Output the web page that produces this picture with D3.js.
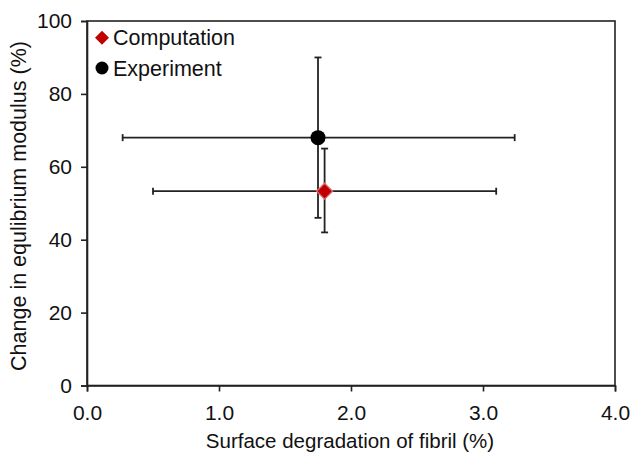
<!DOCTYPE html>
<html><head><meta charset="utf-8">
<script src="https://cdn.jsdelivr.net/npm/d3@7"></script>
<style>body{margin:0;background:#fff}svg{display:block}text{font-family:"Liberation Sans",Arial,sans-serif;fill:#111}</style>
</head><body><svg id="c" width="634" height="457"></svg>
<script>
const seriesNames = ["Computation", "Experiment"];
const xValues = [1.80, 1.75];
const yValues = [53.3, 68];
const xErrLow = [0.50, 0.27];
const xErrHigh = [3.10, 3.24];
const yErrLow = [42, 46];
const yErrHigh = [65, 90];
const xTicks = [0, 1, 2, 3, 4];
const yTicks = [0, 20, 40, 60, 80, 100];

const svg = d3.select("#c");
const L = 87, R = 615, T = 21, B = 385.5;
const x = d3.scaleLinear().domain([0, 4]).range([L, R]);
const y = d3.scaleLinear().domain([0, 100]).range([B, T]);

// frame
svg.append("rect").attr("x", L).attr("y", T).attr("width", R - L).attr("height", B - T)
  .attr("fill", "none").attr("stroke", "#222").attr("stroke-width", 1.6);

const xa = svg.append("g").attr("transform", `translate(0,${B})`)
  .call(d3.axisBottom(x).tickValues(xTicks).tickFormat(d3.format(".1f")).tickSizeOuter(0).tickSize(6).tickPadding(14));
const ya = svg.append("g").attr("transform", `translate(${L},0)`)
  .call(d3.axisLeft(y).tickValues(yTicks).tickSizeOuter(0).tickSize(6).tickPadding(9));
[xa, ya].forEach(a => {
  a.select(".domain").attr("stroke", "#222").attr("stroke-width", 1.6);
  a.selectAll(".tick line").attr("stroke", "#222").attr("stroke-width", 1.6);
  a.selectAll(".tick text").attr("font-size", 21).attr("font-family", "Liberation Sans, Arial, sans-serif").attr("fill", "#111");
});

svg.append("text").attr("x", 350).attr("y", 448).attr("text-anchor", "middle")
  .attr("font-size", 20.5).text("Surface degradation of fibril (%)");
svg.append("text").attr("transform", `translate(26,206) rotate(-90)`).attr("text-anchor", "middle")
  .attr("font-size", 21.5).text("Change in equlibrium modulus (%)");

// error bars
const cap = 3.5;
const eb = svg.append("g").attr("stroke", "#222").attr("stroke-width", 1.8);
[1, 0].forEach(i => {
  eb.append("line").attr("x1", x(xErrLow[i])).attr("x2", x(xErrHigh[i])).attr("y1", y(yValues[i])).attr("y2", y(yValues[i]));
  [xErrLow[i], xErrHigh[i]].forEach(v => eb.append("line").attr("x1", x(v)).attr("x2", x(v)).attr("y1", y(yValues[i]) - cap).attr("y2", y(yValues[i]) + cap));
  eb.append("line").attr("x1", x(xValues[i])).attr("x2", x(xValues[i])).attr("y1", y(yErrLow[i])).attr("y2", y(yErrHigh[i]));
  [yErrLow[i], yErrHigh[i]].forEach(v => eb.append("line").attr("y1", y(v)).attr("y2", y(v)).attr("x1", x(xValues[i]) - cap).attr("x2", x(xValues[i]) + cap));
});

const diamond = (cx, cy, r) => `M${cx},${cy - r}L${cx + r},${cy}L${cx},${cy + r}L${cx - r},${cy}Z`;
// experiment point
svg.append("circle").attr("cx", x(xValues[1])).attr("cy", y(yValues[1])).attr("r", 7.5).attr("fill", "#000");
// computation point
svg.append("path").attr("d", diamond(x(xValues[0]), y(yValues[0]), 8)).attr("fill", "#c00000").attr("stroke", "#e07070").attr("stroke-width", 1.2);

// legend
svg.append("path").attr("d", diamond(102, 37.7, 7)).attr("fill", "#c00000");
svg.append("text").attr("x", 113).attr("y", 45).attr("font-size", 21.5).text(seriesNames[0]);
svg.append("circle").attr("cx", 102, 0).attr("cy", 68).attr("r", 6.5).attr("fill", "#000");
svg.append("text").attr("x", 113).attr("y", 75.5).attr("font-size", 21.5).text(seriesNames[1]);
</script></body></html>
